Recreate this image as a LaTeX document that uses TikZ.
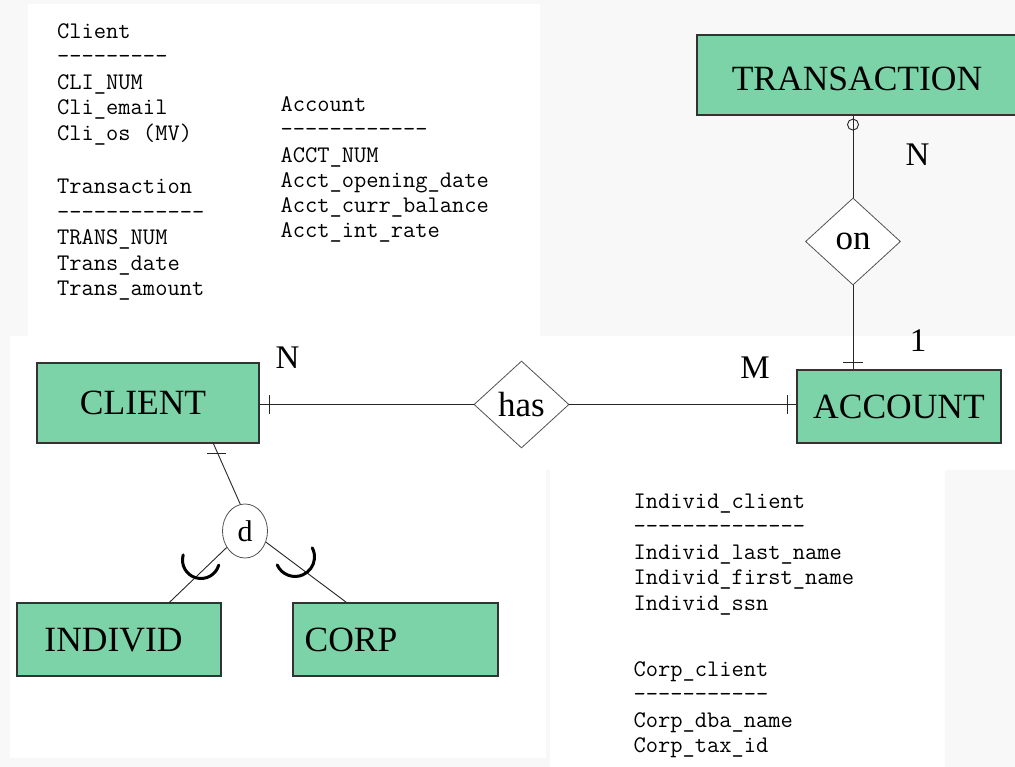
\documentclass[tikz,border=0pt]{standalone}
\usepackage{fontspec}
\setmainfont{Liberation Serif}
\usetikzlibrary{shapes.geometric,calc}
\definecolor{entgreen}{HTML}{7DD3A8}
\definecolor{bggray}{HTML}{F8F8F8}
\definecolor{edgecol}{HTML}{333333}
\newcommand\dashline[1]{\foreach\k in {1,...,#1}{-}}
\begin{document}
\begin{tikzpicture}[x=1pt,y=1pt,
  entity/.style={draw=edgecol, line width=1.2pt, fill=entgreen, rectangle, inner sep=0pt,
    font=\fontsize{35.5}{40}\selectfont, text height=23.5pt, text depth=0pt},
  rel/.style={draw=edgecol!85, line width=0.8pt, fill=white, diamond, inner sep=0pt,
    minimum width=95pt, minimum height=87pt, font=\fontsize{35}{40}\selectfont},
  conn/.style={draw=black!85, line width=0.9pt},
  card/.style={font=\fontsize{33}{36}\selectfont, anchor=base, inner sep=0pt},
  mono/.style={font=\ttfamily\fontsize{23.8}{25.5}\selectfont, anchor=base west, inner sep=0pt},
  subset/.style={line width=3pt, line cap=round},
  panel/.style={fill=white, draw=none}
]
\useasboundingbox (0,0) rectangle (1015,-767);
\clip (0,0) rectangle (1015,-767);
\fill[bggray] (0,0) rectangle (1015,-767);
\fill[panel] (28,-4) rectangle (540,-336);
\fill[panel] (10,-336) rectangle (1015,-470);
\fill[panel] (10,-470) rectangle (546,-758);
\fill[panel] (550,-470) rectangle (945,-767);

% attribute lists
\foreach \t [count=\i from 0] in {Client, \dashline{9}, CLI\_NUM, Cli\_email, Cli\_os (MV)}
  \node[mono] (cl\i) at (57,-38.3-25.5*\i) {\t};
\foreach \t [count=\i from 0] in {Transaction, \dashline{12}, TRANS\_NUM, Trans\_date, Trans\_amount}
  \node[mono] (tl\i) at (57,-194-25.5*\i) {\t};
\foreach \t [count=\i from 0] in {Account, \dashline{12}, ACCT\_NUM, Acct\_opening\_date, Acct\_curr\_balance, Acct\_int\_rate}
  \node[mono] (al\i) at (280.4,-111.7-25.25*\i) {\t};
\foreach \t [count=\i from 0] in {Individ\_client, \dashline{14}, Individ\_last\_name, Individ\_first\_name, Individ\_ssn}
  \node[mono] (il\i) at (633.3,-508.3-25.5*\i) {\t};
\foreach \t [count=\i from 0] in {Corp\_client, \dashline{11}, Corp\_dba\_name, Corp\_tax\_id}
  \node[mono] (pl\i) at (633.3,-676-25.5*\i) {\t};

% entities
\node[entity, minimum width=222pt, minimum height=80pt] (client) at (148,-403) {CLIENT\kern10pt};
\node[entity, minimum width=204pt, minimum height=73pt] (acc) at (899,-406.5) {ACCOUNT};
\node[entity, minimum width=333pt, minimum height=80pt, text height=31.5pt] (tr) at (863.5,-75) {TRANSACTION\kern13pt};
\node[entity, minimum width=204pt, minimum height=73pt] (indiv) at (119,-639.5) {INDIVID\kern11pt};
\node[entity, minimum width=205pt, minimum height=73pt] (corp) at (395.5,-639.5) {CORP\kern89pt};

% relationships
\node[rel] (has) at (521.5,-404.5) {has};
\node[rel] (on) at (853,-241.5) {on};
\node[draw=edgecol!85, line width=0.8pt, ellipse, fill=white, minimum width=45pt, minimum height=54pt,
  inner sep=0pt, font=\fontsize{30}{32}\selectfont] (d) at (245,-531) {d};

% connectors
\draw[conn] (tr.south -| on.north) -- (on.north);
\draw[conn] ($(tr.south -| on.north)+(0,-9)$) circle[radius=5.5];
\draw[conn] (on.south) -- (on.south |- acc.north);
\draw[conn] ($(on.south |- acc.north)+(-10,7)$) -- ++(20,0);
\draw[conn] (client.east |- has.west) -- (has.west);
\draw[conn] ($(client.east |- has.west)+(10,-9.5)$) -- ++(0,19);
\draw[conn] (has.east) -- (has.east -| acc.west);
\draw[conn] ($(has.east -| acc.west)+(-9,-9.5)$) -- ++(0,19);
\coordinate (cd) at ($(client.south west)+(177,0)$);
\draw[conn] (cd) -- (d.100);
\draw[conn] ($(cd)+(-6,-9.7)$) -- ++(19,0);
\draw[conn] (d.222) -- ($(indiv.north west)+(153,0)$);
\draw[conn] (d.332) -- ($(corp.north west)+(54,0)$);
\draw[subset] (183.2,-554.9) arc[start angle=164, end angle=344, radius=18.5];
\draw[subset] (277.2,-564.9) arc[start angle=204, end angle=388, radius=19.5];

% cardinalities
\node[card] (nc) at (287.5,-369) {N};
\node[card] (m) at (755,-378) {M};
\node[card] (nt) at (917.5,-166) {N};
\node[card] (one) at (918,-352) {1};
\end{tikzpicture}
\end{document}
